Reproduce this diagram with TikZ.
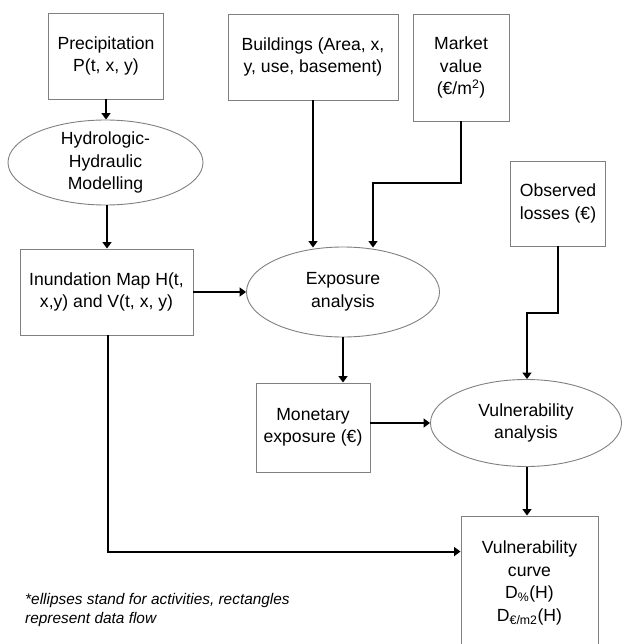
\documentclass[tikz,border=0pt]{standalone}
\usepackage{fontspec}
\setmainfont{Liberation Sans}
\usetikzlibrary{shapes.geometric,arrows.meta,calc}
\definecolor{bordergray}{RGB}{128,128,128}
\tikzset{
  databox/.style={draw=bordergray, line width=0.9pt, rectangle, inner sep=0pt, align=center,
    font=\fontsize{17.6}{22.5}\selectfont},
  actv/.style={draw=bordergray, line width=0.9pt, ellipse, inner sep=0pt},
  acttext/.style={align=center, inner sep=0pt, font=\fontsize{17.6}{22.5}\selectfont},
  conn/.style={draw=black, line width=2pt, -{Triangle[width=9pt,length=6.5pt]}},
  note/.style={align=left, inner sep=0pt, anchor=west, font=\fontsize{15.4}{18.6}\selectfont\itshape}
}
\begin{document}
\begin{tikzpicture}[x=1pt,y=-1pt]
\useasboundingbox (0,0) rectangle (622,644);
\clip (0,0) rectangle (622,644);
% data boxes
\node[databox, minimum width=115pt, minimum height=86pt] (prec) at (106,56) {Precipitation\\P(t, x, y)};
\node[databox, minimum width=173pt, minimum height=86pt] (inund) at (106.5,292) {Inundation Map H(t,\\x,y) and V(t, x, y)};
\node[databox, minimum width=170pt, minimum height=86pt] (build) at (313,57) {Buildings (Area, x,\\y, use, basement)};
\node[databox, minimum width=96pt, minimum height=107pt] (market) at (461,67.5) {Market\\value\\(€/m\textsuperscript{2})};
\node[databox, minimum width=95pt, minimum height=85pt] (obs) at (558,203.5) {Observed\\losses (€)};
\node[databox, minimum width=114pt, minimum height=89pt] (monet) at (313,427.5) {Monetary\\exposure (€)};
\node[databox, minimum width=137pt, minimum height=134pt] (curve) at (529.5,583) {Vulnerability\\curve\\D\textsubscript{\%}(H)\\D\textsubscript{€/m2}(H)};
% activity ellipses
\node[actv, minimum width=195pt, minimum height=85pt] (hydro) at (105.5,162.5) {};
\node[acttext] (hydrot) at (hydro) {Hydrologic-\\Hydraulic\\Modelling};
\node[actv, minimum width=193pt, minimum height=90pt] (expo) at (343,292) {};
\node[acttext] (expot) at (expo) {Exposure\\analysis};
\node[actv, minimum width=191pt, minimum height=87pt] (vuln) at (526,423) {};
\node[acttext] (vulnt) at (vuln) {Vulnerability\\analysis};
% connectors
\draw[conn] (prec.south) -- (prec.south |- hydro.north);
\draw[conn] ([xshift=1.5pt]hydro.south) -- ([xshift=1.5pt]hydro.south |- inund.north);
\draw[conn] (inund.east) -- (expo.west);
\draw[conn] (build.south) -- ($(build.south |- expo.north)+(0,1)$);
\draw[conn] (market.south) -- ++(0,62) -| ($(373,0 |- expo.north)+(0,1)$);
\draw[conn] (expo.south) -- (expo.south |- monet.north);
\draw[conn] (obs.south) -- ++(0,67) -| (527,0 |- vuln.north);
\draw[conn] (vuln.west -| monet.east) -- (vuln.west);
\draw[conn] ([xshift=1pt]vuln.south) -- ([xshift=1pt]vuln.south |- curve.north);
\coordinate (curvein) at ([yshift=-36pt]curve.north west);
\draw[conn] ([xshift=1.5pt]inund.south) |- (curvein);
% footnote
\node[note] (fn) at (25,610) {*ellipses stand for activities, rectangles\\represent data flow};
\end{tikzpicture}
\end{document}
